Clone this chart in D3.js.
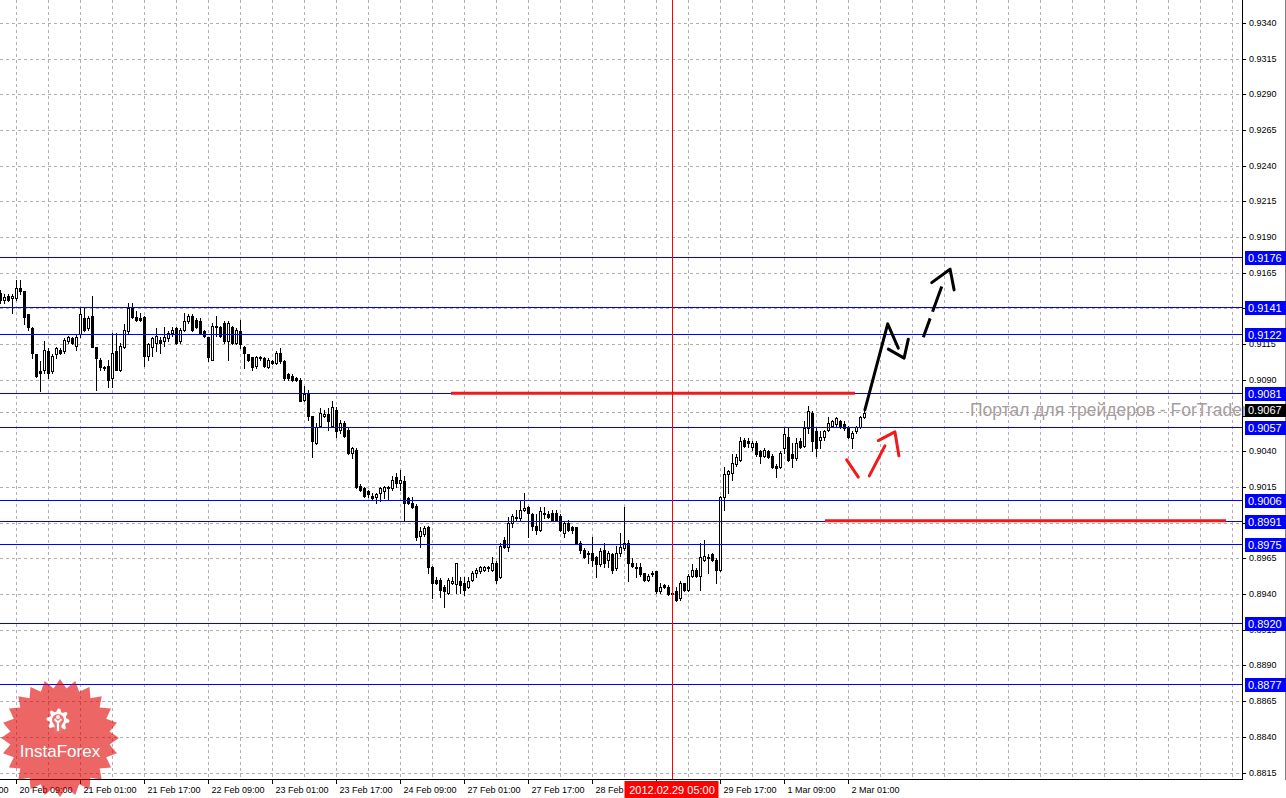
<!DOCTYPE html>
<html><head><meta charset="utf-8">
<script src="https://cdn.jsdelivr.net/npm/d3@7"></script>
<style>html,body{margin:0;padding:0;background:#fff;overflow:hidden}svg{display:block}</style>
</head><body><svg id="c" width="1286" height="798"></svg>
<script>
// ---- data: USDCHF H1 candles (bar index 0 = 20 Feb 05:00) ----
const open=[.9151,.9146,.9149,.9147,.9147,.9154,.9152,.9136,.9126,.9108,
.9096,.9097,.9110,.9096,.9108,.9111,.9110,.9117,.9119,.9114,
.9122,.9133,.9126,.9135,.9113,.9104,.9099,.9100,.9091,.9110,
.9097,.9113,.9124,.9141,.9134,.9133,.9134,.9107,.9113,.9116,
.9118,.9117,.9119,.9123,.9126,.9117,.9125,.9131,.9135,.9132,
.9131,.9124,.9120,.9104,.9128,.9127,.9130,.9117,.9127,.9116,
.9124,.9113,.9108,.9106,.9100,.9106,.9105,.9099,.9103,.9102,
.9109,.9103,.9094,.9093,.9091,.9090,.9076,.9081,.9065,.9046,
.9058,.9065,.9066,.9058,.9069,.9055,.9060,.9055,.9039,.9041,
.9016,.9014,.9012,.9009,.9008,.9011,.9012,.9015,.9014,.9022,
.9018,.9019,.9007,.9004,.9002,.8981,.8982,.8987,.8959,.8950,
.8950,.8945,.8941,.8948,.8947,.8949,.8948,.8945,.8950,.8955,
.8956,.8957,.8958,.8957,.8962,.8952,.8978,.8973,.8990,.8993,
.8993,.8999,.9001,.8996,.8988,.8985,.8996,.8996,.8997,.8997,
.8995,.8983,.8990,.8987,.8987,.8976,.8971,.8969,.8969,.8966,
.8961,.8971,.8964,.8968,.8958,.8969,.8972,.8976,.8962,.8959,
.8959,.8955,.8950,.8954,.8956,.8942,.8946,.8945,.8941,.8942,
.8937,.8948,.8943,.8953,.8957,.8953,.8964,.8966,.8968,.8964,
.8957,.9008,.9024,.9025,.9031,.9034,.9048,.9047,.9043,.9046,
.9040,.9037,.9040,.9037,.9030,.9029,.9042,.9050,.9038,.9035,
.9047,.9044,.9056,.9067,.9054,.9048,.9050,.9055,.9058,.9059,
.9061,.9059,.9057,.9049,.9054,.9057,.9064];
const high=[.9153,.9150,.9150,.9150,.9160,.9160,.9152,.9136,.9127,.9108,
.9103,.9117,.9112,.9108,.9113,.9112,.9119,.9121,.9120,.9122,
.9141,.9141,.9135,.9149,.9113,.9105,.9100,.9104,.9123,.9123,
.9116,.9129,.9144,.9144,.9138,.9137,.9135,.9116,.9120,.9126,
.9120,.9127,.9124,.9127,.9127,.9126,.9137,.9136,.9136,.9133,
.9133,.9125,.9120,.9130,.9135,.9128,.9131,.9131,.9128,.9126,
.9132,.9114,.9108,.9106,.9107,.9107,.9106,.9105,.9104,.9110,
.9112,.9104,.9095,.9094,.9092,.9091,.9086,.9083,.9065,.9060,
.9070,.9069,.9070,.9075,.9071,.9062,.9061,.9056,.9043,.9042,
.9017,.9015,.9013,.9011,.9011,.9015,.9016,.9016,.9023,.9025,
.9027,.9023,.9008,.9008,.9003,.8987,.8988,.8988,.8960,.8952,
.8951,.8946,.8951,.8952,.8962,.8952,.8952,.8952,.8956,.8958,
.8960,.8960,.8960,.8966,.8963,.8976,.8980,.8994,.8996,.8999,
.9006,.9011,.9002,.8997,.8996,.9001,.9001,.8998,.8999,.8999,
.8996,.8991,.8992,.8988,.8987,.8977,.8972,.8970,.8980,.8967,
.8972,.8976,.8970,.8969,.8974,.8983,.9001,.8978,.8965,.8962,
.8962,.8955,.8954,.8956,.8956,.8948,.8947,.8946,.8942,.8945,
.8949,.8948,.8954,.8961,.8958,.8976,.8978,.8968,.8969,.8965,
.9009,.9029,.9027,.9038,.9038,.9050,.9049,.9049,.9047,.9047,
.9041,.9042,.9041,.9038,.9031,.9040,.9057,.9056,.9046,.9049,
.9049,.9061,.9072,.9068,.9056,.9054,.9055,.9064,.9062,.9064,
.9062,.9061,.9058,.9054,.9058,.9065,.9069];
const low=[.9144,.9144,.9145,.9137,.9146,.9150,.9129,.9125,.9105,.9092,
.9082,.9095,.9091,.9095,.9105,.9108,.9109,.9116,.9115,.9111,
.9120,.9124,.9125,.9113,.9083,.9097,.9097,.9085,.9085,.9097,
.9096,.9112,.9123,.9133,.9131,.9131,.9100,.9104,.9107,.9110,
.9109,.9114,.9117,.9121,.9115,.9116,.9124,.9130,.9124,.9126,
.9122,.9120,.9103,.9104,.9121,.9120,.9116,.9104,.9115,.9115,
.9112,.9098,.9103,.9097,.9098,.9104,.9099,.9098,.9101,.9101,
.9102,.9090,.9090,.9089,.9089,.9075,.9075,.9062,.9036,.9045,
.9057,.9064,.9055,.9057,.9050,.9053,.9050,.9038,.9035,.9014,
.9012,.9008,.9008,.9006,.9004,.9005,.9007,.9006,.9013,.9015,
.9013,.8992,.9003,.9000,.8978,.8973,.8981,.8955,.8937,.8947,
.8938,.8931,.8940,.8947,.8941,.8941,.8939,.8944,.8949,.8952,
.8955,.8956,.8956,.8956,.8948,.8951,.8972,.8970,.8987,.8992,
.8992,.8998,.8980,.8985,.8982,.8984,.8993,.8993,.8991,.8991,
.8984,.8980,.8984,.8983,.8975,.8969,.8965,.8962,.8960,.8952,
.8960,.8959,.8959,.8955,.8957,.8967,.8971,.8949,.8959,.8952,
.8953,.8949,.8949,.8953,.8941,.8941,.8944,.8939,.8939,.8935,
.8936,.8942,.8942,.8952,.8952,.8943,.8963,.8955,.8963,.8948,
.8956,.8999,.9011,.9020,.9030,.9033,.9043,.9043,.9041,.9037,
.9032,.9036,.9035,.9028,.9022,.9028,.9039,.9033,.9029,.9034,
.9042,.9043,.9053,.9040,.9037,.9042,.9048,.9054,.9057,.9058,
.9056,.9055,.9049,.9042,.9053,.9056,.9063];
const close=[.9146,.9148,.9146,.9149,.9154,.9152,.9134,.9127,.9109,.9093,
.9095,.9111,.9095,.9107,.9112,.9109,.9118,.9120,.9116,.9120,
.9136,.9125,.9133,.9113,.9105,.9099,.9098,.9090,.9109,.9097,
.9114,.9125,.9140,.9134,.9132,.9132,.9107,.9115,.9119,.9121,
.9116,.9120,.9123,.9125,.9116,.9125,.9131,.9135,.9125,.9127,
.9123,.9121,.9106,.9128,.9127,.9121,.9117,.9130,.9116,.9125,
.9115,.9109,.9104,.9099,.9106,.9105,.9100,.9104,.9102,.9109,
.9103,.9091,.9091,.9090,.9090,.9075,.9080,.9065,.9047,.9057,
.9067,.9066,.9061,.9071,.9054,.9060,.9051,.9039,.9042,.9015,
.9013,.9009,.9010,.9007,.9010,.9014,.9015,.9014,.9020,.9018,
.9020,.9004,.9004,.9001,.8980,.8984,.8986,.8959,.8948,.8948,
.8943,.8942,.8950,.8949,.8962,.8946,.8943,.8949,.8955,.8957,
.8959,.8959,.8959,.8962,.8950,.8974,.8973,.8990,.8995,.8994,
.8999,.9000,.8997,.8988,.8985,.8998,.8997,.8994,.8992,.8992,
.8985,.8990,.8985,.8985,.8976,.8971,.8966,.8968,.8964,.8961,
.8970,.8962,.8969,.8957,.8969,.8973,.8976,.8962,.8960,.8958,
.8954,.8950,.8953,.8955,.8942,.8945,.8945,.8940,.8940,.8936,
.8948,.8943,.8953,.8957,.8953,.8966,.8967,.8965,.8964,.8957,
.9008,.9024,.9026,.9032,.9036,.9047,.9044,.9046,.9046,.9038,
.9037,.9041,.9036,.9029,.9028,.9039,.9052,.9034,.9035,.9046,
.9043,.9056,.9068,.9047,.9042,.9050,.9054,.9060,.9061,.9063,
.9057,.9056,.9050,.9053,.9057,.9064,.9067];

const xTickBars=[-12,4,20,36,52,68,84,100,116,132,148,164,180,196,212];
const xTickLabels=["17 Feb 17:00","20 Feb 09:00","21 Feb 01:00","21 Feb 17:00","22 Feb 09:00","23 Feb 01:00","23 Feb 17:00","24 Feb 09:00","27 Feb 01:00","27 Feb 17:00","28 Feb 09:00","29 Feb 01:00","29 Feb 17:00","1 Mar 09:00","2 Mar 01:00"];
const yTickValues=[0.8815,0.8840,0.8865,0.8890,0.8915,0.8940,0.8965,0.8990,0.9015,0.9040,0.9065,0.9090,0.9115,0.9140,0.9165,0.9190,0.9215,0.9240,0.9265,0.9290,0.9315,0.9340];
const levelPrices=[0.9176,0.9141,0.9122,0.9081,0.9057,0.9006,0.8991,0.8975,0.8920,0.8877];
const bidPrice=0.9067;
const crossBar=168, crossLabel="2012.02.29 05:00";
const redLevels=[{from:112.6,to:213.6,price:0.90807},{from:206.1,to:306.4,price:0.89913}];
const blackSolid=[[[216.1,0.9069],[221.8,0.91292],[224.45,0.91122]],[[221.95,0.91115],[225.9,0.91052],[226.95,0.91185]]];
const blackDashed=[[230.7,0.91199],[235.3,0.91553]];
const blackDashHead=[[232.8,0.91581],[237.4,0.91675],[238.4,0.9153]];
const redArrow=[[[211.55,0.9034],[214.45,0.90219]],[[217.2,0.90228],[221.1,0.90438]],[[219.45,0.90475],[223.6,0.90536],[224.6,0.90368]]];
const watermark="Портал для трейдеров - ForTrader.ru";

// ---- drawing ----
const FONT="'Liberation Sans', Arial, sans-serif";
const svg=d3.select("#c");
const PR=1242, PB=779;
const x=d3.scaleLinear().domain([0,310]).range([0.5,1240.5]);
const y=d3.scaleLinear().domain([0.88105,0.93560]).range([779,0]);
const ry=p=>Math.round(y(p));

svg.append("rect").attr("width",1286).attr("height",798).attr("fill","#fff");

const plot=svg.append("g");
// grid
const gridBars=d3.range(4,311,8);
plot.selectAll(".gv").data(gridBars).join("line")
  .attr("x1",d=>x(d)).attr("x2",d=>x(d)).attr("y1",0).attr("y2",PB)
  .attr("stroke","#b8a8b8").attr("stroke-dasharray","3,3").attr("shape-rendering","crispEdges");
const gridY=yTickValues.filter(v=>Math.abs(ry(v)-ry(bidPrice))>4);
plot.selectAll(".gh").data(gridY).join("line")
  .attr("x1",0).attr("x2",PR).attr("y1",d=>ry(d)+0.5).attr("y2",d=>ry(d)+0.5)
  .attr("stroke","#b0b0b0").attr("stroke-dasharray","3,3").attr("shape-rendering","crispEdges");
// bid line
plot.append("line").attr("x1",0).attr("x2",PR).attr("y1",ry(bidPrice)-0.5).attr("y2",ry(bidPrice)-0.5)
  .attr("stroke","#a8a8a8").attr("stroke-dasharray","3,3").attr("shape-rendering","crispEdges");

// candles
const bars=open.map((o,i)=>({i,o,h:high[i],l:low[i],c:close[i]}));
const cg=plot.append("g").attr("shape-rendering","crispEdges");
cg.selectAll(".w").data(bars).join("line")
  .attr("x1",d=>x(d.i)).attr("x2",d=>x(d.i))
  .attr("y1",d=>ry(d.h)).attr("y2",d=>ry(d.l)+1).attr("stroke","#000");
cg.selectAll(".b").data(bars).join("rect")
  .attr("x",d=>d.c>=d.o? x(d.i)-1 : x(d.i)-1.5)
  .attr("width",d=>d.c>=d.o?2:3)
  .attr("y",d=>d.c>=d.o? ry(d.c)+0.5 : ry(d.o))
  .attr("height",d=>d.c>=d.o? Math.max(0,ry(d.o)-ry(d.c)) : Math.max(1,ry(d.c)-ry(d.o)+1))
  .attr("fill",d=>d.c>=d.o?"#fff":"#000")
  .attr("stroke",d=>d.c>=d.o?"#000":"none").attr("stroke-width",1);

// level lines
plot.selectAll(".lv").data(levelPrices).join("line")
  .attr("x1",0).attr("x2",PR).attr("y1",d=>ry(d)+0.5).attr("y2",d=>ry(d)+0.5)
  .attr("stroke","#0000ff").attr("stroke-width",1).attr("shape-rendering","crispEdges");
// red levels
plot.selectAll(".rl").data(redLevels).join("line")
  .attr("x1",d=>x(d.from)).attr("x2",d=>x(d.to)).attr("y1",d=>y(d.price)).attr("y2",d=>y(d.price))
  .attr("stroke","#f01a1a").attr("stroke-width",3);
// arrows
const ln=d3.line().x(d=>x(d[0])).y(d=>y(d[1]));
blackSolid.forEach(p=>plot.append("path").attr("d",ln(p)).attr("fill","none").attr("stroke","#000").attr("stroke-width",3).attr("stroke-linecap","round").attr("stroke-linejoin","round"));
plot.append("path").attr("d",ln(blackDashed)).attr("fill","none").attr("stroke","#000").attr("stroke-width",3).attr("stroke-dasharray","20,7,27,7");
plot.append("path").attr("d",ln(blackDashHead)).attr("fill","none").attr("stroke","#000").attr("stroke-width",3).attr("stroke-linecap","round").attr("stroke-linejoin","round");
redArrow.forEach(p=>plot.append("path").attr("d",ln(p)).attr("fill","none").attr("stroke","#f01a1a").attr("stroke-width",3).attr("stroke-linecap","round").attr("stroke-linejoin","round"));
// crosshair
plot.append("line").attr("x1",x(crossBar)).attr("x2",x(crossBar)).attr("y1",0).attr("y2",PB)
  .attr("stroke","#ff0000").attr("shape-rendering","crispEdges");

// axes background
svg.append("rect").attr("x",PR+1).attr("y",0).attr("width",1286-PR).attr("height",798).attr("fill","#fff");
svg.append("rect").attr("x",0).attr("y",PB+1).attr("width",1286).attr("height",798-PB).attr("fill","#fff");
// y axis ticks + labels (labels hidden where a price box fully covers them)
const boxY=levelPrices.concat([bidPrice]).map(ry);
const ax=svg.append("g");
ax.selectAll(".yt").data(yTickValues).join("line")
  .attr("x1",PR).attr("x2",PR+4).attr("y1",d=>ry(d)+0.5).attr("y2",d=>ry(d)+0.5)
  .attr("stroke","#000").attr("shape-rendering","crispEdges");
ax.selectAll(".yl").data(yTickValues.filter(v=>boxY.every(b=>Math.abs(b-ry(v))>6))).join("text")
  .attr("x",1249).attr("y",d=>ry(d)+2.5).text(d=>d.toFixed(4))
  .attr("font-family",FONT).attr("font-size",9).attr("fill","#000");
// x axis ticks + labels
const crossBox=[x(crossBar)-48, x(crossBar)+46];
ax.selectAll(".xt").data(xTickBars).join("line")
  .attr("x1",d=>x(d)).attr("x2",d=>x(d)).attr("y1",PB).attr("y2",PB+5)
  .attr("stroke","#000").attr("shape-rendering","crispEdges");
const defs=svg.append("defs");
const clip=defs.append("clipPath").attr("id","xclip");
clip.append("rect").attr("x",0).attr("y",PB).attr("width",crossBox[0]).attr("height",20);
clip.append("rect").attr("x",crossBox[1]).attr("y",PB).attr("width",1286-crossBox[1]).attr("height",20);
const xl=ax.append("g").attr("clip-path","url(#xclip)");
xl.selectAll(".xl").data(xTickBars.map((b,i)=>({b,t:xTickLabels[i]})).filter(d=>!(x(d.b)+3>=crossBox[0]-2 && x(d.b)+3<crossBox[1])))
  .join("text")
  .attr("x",d=>x(d.b)+3).attr("y",793).text(d=>d.t)
  .attr("font-family",FONT).attr("font-size",9).attr("fill","#000");
// axis lines
ax.append("line").attr("x1",PR+0.5).attr("x2",PR+0.5).attr("y1",0).attr("y2",PB+1).attr("stroke","#000").attr("shape-rendering","crispEdges");
ax.append("line").attr("x1",0).attr("x2",PR+1).attr("y1",PB+0.5).attr("y2",PB+0.5).attr("stroke","#000").attr("shape-rendering","crispEdges");
ax.append("line").attr("x1",1285.5).attr("x2",1285.5).attr("y1",0).attr("y2",PB+1).attr("stroke","#808080").attr("shape-rendering","crispEdges");

// watermark
svg.append("text").attr("x",970).attr("y",416).text(watermark)
  .attr("font-family",FONT).attr("font-size",17.5).attr("fill","#a69d9d");

// level labels
const lab=svg.append("g");
lab.selectAll(".lb").data(levelPrices).join("rect")
  .attr("x",PR+3).attr("width",41).attr("y",d=>ry(d)-6).attr("height",14).attr("fill","#0000ff");
lab.selectAll(".lt").data(levelPrices).join("text")
  .attr("x",1248).attr("y",d=>ry(d)+5).text(d=>d.toFixed(4))
  .attr("font-family",FONT).attr("font-size",11).attr("fill","#fff");
lab.append("rect").attr("x",PR+3).attr("width",41).attr("y",ry(bidPrice)-9).attr("height",13).attr("fill","#000");
lab.append("text").attr("x",1248).attr("y",ry(bidPrice)+1).text(bidPrice.toFixed(4))
  .attr("font-family",FONT).attr("font-size",11).attr("fill","#fff");
// crosshair label
lab.append("rect").attr("x",crossBox[0]).attr("y",PB+2).attr("width",crossBox[1]-crossBox[0]).attr("height",798-PB-2).attr("fill","#ff0000");
lab.append("text").attr("x",x(crossBar)-0.5).attr("y",794).attr("text-anchor","middle").text(crossLabel)
  .attr("font-family",FONT).attr("font-size",11).attr("fill","#fff");

// InstaForex logo
const logo=svg.append("g").attr("transform","translate(60,738)");
const starPts=d3.range(48).map(k=>{const a=k*Math.PI/24-Math.PI/2, r=k%2?50:59; return [r*Math.cos(a),r*Math.sin(a)];});
logo.append("path").attr("d","M"+starPts.map(p=>p.join(",")).join("L")+"Z").attr("fill","#e00000").attr("opacity",0.6);
const gear=logo.append("g").attr("transform","translate(-2,-18)");
const gearPts=d3.range(32).map(k=>{const a=k*Math.PI/16, r=(Math.floor(k/2)%2)?8.5:11.5; return [r*Math.cos(a),r*Math.sin(a)];});
gear.append("path").attr("d","M"+gearPts.map(p=>p.join(",")).join("L")+"Z").attr("fill","#fff");
gear.append("circle").attr("r",6).attr("fill","#ef7070");
gear.append("rect").attr("x",-3.5).attr("y",5).attr("width",7).attr("height",8).attr("fill","#ef7070");
gear.append("circle").attr("cy",-3).attr("r",2).attr("fill","#fff");
gear.append("path").attr("d","M-3.5,-1 L0,2.5 L3.5,-1").attr("stroke","#fff").attr("stroke-width",2).attr("fill","none");
gear.append("path").attr("d","M0,2 L0,11").attr("stroke","#fff").attr("stroke-width",2.2);
logo.append("text").attr("x",0).attr("y",19).attr("text-anchor","middle").text("InstaForex")
  .attr("font-family",FONT).attr("font-size",17).attr("fill","#fff");
</script></body></html>
